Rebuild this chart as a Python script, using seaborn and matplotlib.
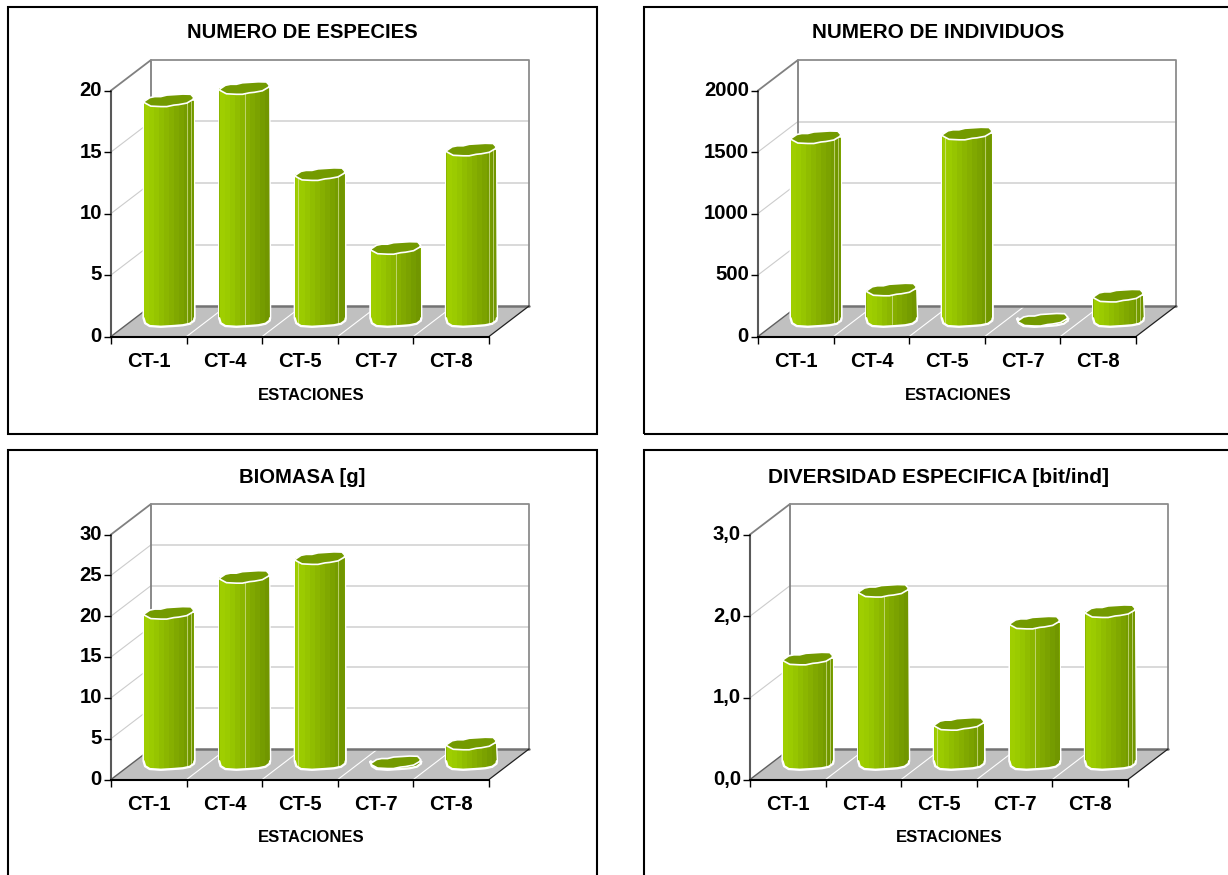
import numpy as np
import pandas as pd
import matplotlib
matplotlib.use("Agg")
import matplotlib.pyplot as plt
import seaborn as sns
from matplotlib.colors import ListedColormap
from matplotlib.lines import Line2D
from matplotlib.patches import Polygon, Rectangle

stations = ["CT-1", "CT-4", "CT-5", "CT-7", "CT-8"]
especies = [18, 19, 12, 6, 14]
individuos = [1500, 262, 1530, 8, 212]
biomasa = [18.6, 23, 25.3, 0.3, 2.6]
diversidad = [1.3, 2.13, 0.5, 1.74, 1.88]

titles = ["NUMERO DE ESPECIES", "NUMERO DE INDIVIDUOS", "BIOMASA [g]", "DIVERSIDAD ESPECIFICA [bit/ind]"]
title_sizes = [14.6, 14.85, 14.6, 15.0]
xlabel = "ESTACIONES"
ymaxes = [20, 2000, 30, 3]
ysteps = [5, 500, 5, 1]

W, H = 1228, 875
sns.set_theme(style="white")
plt.rcParams["font.family"] = ["Liberation Sans", "DejaVu Sans"]
plt.rcParams["font.weight"] = "bold"
plt.rcParams["text.color"] = "black"
plt.rcParams["xtick.color"] = "black"
plt.rcParams["ytick.color"] = "black"
plt.rcParams["axes.labelcolor"] = "black"
plt.rcParams["axes.titlecolor"] = "black"

fig = plt.figure(figsize=(W / 100, H / 100), dpi=100, facecolor="white")

# frames: left, top, right, bottom (px)
frames = [(8, 7, 597, 434), (644, 7, 1240, 434), (8, 450, 597, 890), (644, 450, 1240, 890)]
for l, t, r, b in frames:
    fig.add_artist(Rectangle((l / W, 1 - b / H), (r - l) / W, (b - t) / H, transform=fig.transFigure,
                             fill=False, ec="black", lw=1.5))

# plot geometry: left px, baseline px, top px, title centre, xlabel centre, title y, xlabel y
geo = [(111, 336.5, 90.5, 302, 311, 33, 395.5),
       (758, 336.5, 90.5, 938, 958, 33, 395.5),
       (111, 779.5, 534.5, 302, 311, 478, 837.5),
       (750, 779.5, 534.5, 938, 949, 478, 837.5)]
PW = 378
DX, DY = 40, 30.5          # depth of the box
BAR_DX, BAR_DY_TOP = 20, 14.5
BAR_DY_BASE = 16.5
HALF = 24.7

band_colors = ["#9fce00", "#9bcb00", "#96c500", "#90bd00", "#8bb600", "#86af00",
               "#80a800", "#7ba200", "#759c00", "#719600"]
cap_color = "#739a00"
cap_x = np.array([-24.5, -19, -14, -8, -2, 6, 14, 22, 25, 24, 18, 10, 5, -2, -8, -18, -24.5])
cap_y = np.array([0.7, -3, -4, -4, -5.5, -6, -6.5, -6.3, -3, -1, 2.5, 4, 4.5, 6, 6, 5.5, 2])
bot_x = np.array([-25, -23.5, -19, -8, 4, 14, 21, 25, 25.5])
bot_y = np.array([-2, 3, 5.8, 6.5, 5.8, 5, 3.5, 0.5, -2])
facets = [[0.86, 0.94], [0.51], [0.06, 0.87], [0.51], [0.86, 0.94]]

all_values = [especies, individuos, biomasa, diversidad]
for i, values in enumerate(all_values):
    left, base, top, title_cx, label_cx, title_y, label_y = geo[i]
    plot_h = base - top
    ax = fig.add_axes([left / W, 1 - base / H, PW / W, plot_h / H])
    df = pd.DataFrame({"station": stations, "value": values})
    sns.barplot(data=df, x="station", y="value", color=band_colors[4], width=0.66, ax=ax,
                saturation=1, zorder=4, clip_on=False)
    ymax = ymaxes[i]
    ax.set_xlim(-0.5, 4.5)
    ax.set_ylim(0, ymax)
    sx = PW / 5            # px per category
    sy = plot_h / ymax     # px per unit
    ddx, ddy = DX / sx, DY / sy
    x0, x1 = -0.5, 4.5

    # floor
    ax.add_patch(Polygon([(x0, 0), (x1, 0), (x1 + ddx, ddy), (x0 + ddx, ddy)], closed=True,
                         fc="#c0c0c0", ec="none", zorder=1, clip_on=False))
    # category separators on the floor
    for k in range(1, 5):
        ax.add_line(Line2D([x0 + k, x0 + k + ddx], [0, ddy], color="white", lw=0.8, zorder=1.5, clip_on=False))
    # grid
    yticks = np.arange(0, ymax + ysteps[i] * 0.5, ysteps[i])
    for v in yticks[1:-1]:
        ax.add_line(Line2D([x0, x0 + ddx], [v, v + ddy], color="#cccccc", lw=0.8, zorder=1, clip_on=False))
        ax.add_line(Line2D([x0 + ddx, x1 + ddx], [v + ddy, v + ddy], color="#d9d9d9", lw=1.4, zorder=1, clip_on=False))
    # walls
    wall = "#808080"
    ax.add_line(Line2D([x0, x0 + ddx, x0 + ddx], [ymax, ymax + ddy, ddy], color=wall, lw=1.3, zorder=1.2, clip_on=False))
    ax.add_line(Line2D([x0 + ddx, x1 + ddx, x1 + ddx], [ymax + ddy, ymax + ddy, ddy], color="#8c8c8c", lw=1.3, zorder=1.2, clip_on=False))
    ax.add_line(Line2D([x0 + ddx, x1 + ddx], [ddy, ddy], color="#737373", lw=1.8, zorder=1.6, clip_on=False))
    ax.add_line(Line2D([x0, x0 + ddx], [0, ddy], color="#606060", lw=1.0, zorder=1.7, clip_on=False))
    ax.add_line(Line2D([x1, x1 + ddx], [0, ddy], color="#202020", lw=0.9, zorder=1.7, clip_on=False))

    # cylinders, built on the seaborn bars
    xshift = BAR_DX / sx
    for j, p in enumerate(ax.patches[:5]):
        xc = p.get_x() + p.get_width() / 2 + xshift
        hw = p.get_width() / 2
        v = p.get_height()
        yt = max(v + BAR_DY_TOP / sy, BAR_DY_BASE / sy)
        yb = BAR_DY_BASE / sy
        p.set_x(xc - hw)
        p.set_y(yb)
        p.set_height(max(yt - yb, 0))
        p.set_edgecolor("none")

        low = list(zip(xc + bot_x[::-1] / sx, yb - bot_y[::-1] / sy))
        body_pts = [(xc - HALF / sx, yt), (xc + HALF / sx, yt)] + low
        ax.add_patch(Polygon(body_pts, closed=True, fc="white", ec="white", lw=2.0, zorder=3.8, clip_on=False))
        clip = Polygon(body_pts, closed=True, transform=ax.transData)
        ax.add_patch(clip)
        clip.set_visible(False)
        img = ax.imshow(np.arange(len(band_colors))[None, :], cmap=ListedColormap(band_colors), aspect="auto",
                        extent=(xc - HALF / sx, xc + HALF / sx, yb - 8 / sy, yt + 8 / sy), zorder=4.5,
                        interpolation="nearest")
        img.set_clip_box(fig.bbox)
        img.set_clip_path(clip)
        # facet lines
        if yt - yb > 20 / sy:
            for f in facets[j]:
                fx = xc - HALF / sx + f * 2 * HALF / sx
                ax.add_line(Line2D([fx, fx], [yb - 4 / sy, yt], color="#d8e4a0", lw=0.7, alpha=0.7,
                                   zorder=4.7, clip_on=False))
        ax.add_line(Line2D(xc + bot_x / sx, yb - bot_y / sy, color="white", lw=1.3, zorder=5, clip_on=False))
        # top cap
        ax.add_patch(Polygon(list(zip(xc + cap_x / sx, yt - cap_y / sy)), closed=True, fc=cap_color, ec="white",
                             lw=1.2, zorder=6, clip_on=False))

    ax.set_xlim(-0.5, 4.5)
    ax.set_ylim(0, ymax)

    sns.despine(ax=ax, top=True, right=True)
    ax.spines["left"].set_color("#595959")
    ax.spines["left"].set_linewidth(1.5)
    ax.spines["bottom"].set_color("black")
    ax.spines["bottom"].set_linewidth(1.5)
    ax.patch.set_alpha(0)
    ax.set_axisbelow(False)

    ax.set_yticks(yticks)
    if i == 3:
        ax.set_yticklabels([f"{t:.1f}".replace(".", ",") for t in yticks])
    else:
        ax.set_yticklabels([f"{int(t)}" for t in yticks])
    for lab in ax.get_yticklabels():
        lab.set_verticalalignment("center")
    ax.set_xticks(range(5))
    ax.set_xticklabels(stations)
    ax.set_xticks(np.arange(-0.5, 5), minor=True)
    ax.tick_params(axis="x", which="major", length=0, pad=11, labelsize=14.5)
    ax.tick_params(axis="x", which="minor", length=5, width=1, color="black", bottom=True)
    ax.tick_params(axis="y", which="major", left=True, length=5, width=1, color="black", pad=1.5, labelsize=14.6)
    ax.set_ylabel("")
    ax.set_xlabel(xlabel, fontsize=12, fontweight="bold", va="center")
    ax.xaxis.set_label_coords((label_cx - left) / PW, (base - label_y) / plot_h)
    ax.set_title(titles[i], fontsize=title_sizes[i], fontweight="bold", va="center",
                 x=(title_cx - left) / PW, y=(base - title_y) / plot_h, pad=0)

fig.savefig("out.png", dpi=100, facecolor="white")
